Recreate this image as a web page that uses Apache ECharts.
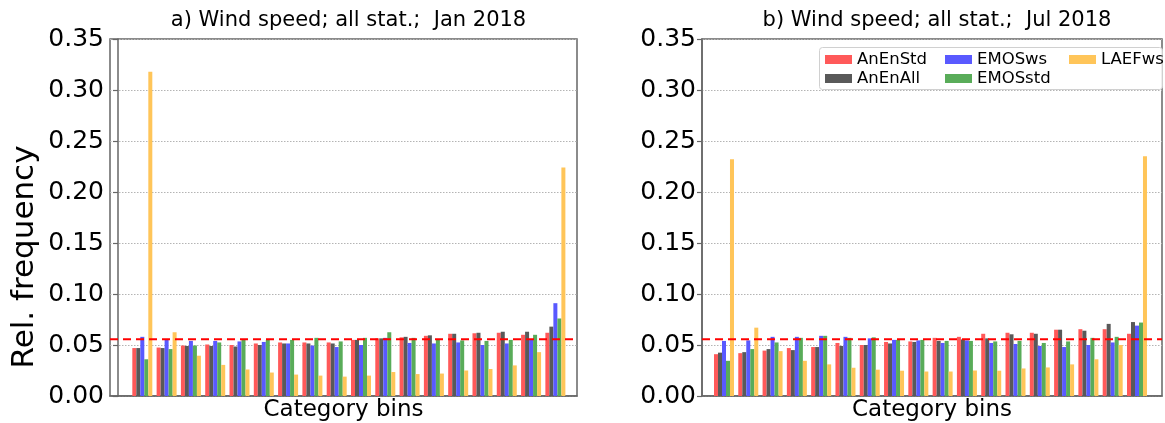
<!DOCTYPE html>
<html>
<head>
<meta charset="utf-8">
<script src="https://cdn.jsdelivr.net/npm/echarts@6/dist/echarts.min.js"></script>
<style>
  html, body { margin: 0; padding: 0; background: #fff; }
  #chart { width: 1165px; height: 423px; }
</style>
</head>
<body>
<div id="chart"></div>
<script>
// Rank histogram bins (1..18) and their relative frequencies
const bins = [1, 2, 3, 4, 5, 6, 7, 8, 9, 10, 11, 12, 13, 14, 15, 16, 17, 18];
const seriesNames = ['AnEnStd', 'AnEnAll', 'EMOSws', 'EMOSstd', 'LAEFws'];
const seriesColors = ['#ff5959', '#595959', '#5959ff', '#59ac59', '#ffc559'];
const yTicks = [0, 0.05, 0.10, 0.15, 0.20, 0.25, 0.30, 0.35];
const uniformFreq = 1 / 18;

// a) January 2018
const janAnEnStd = [0.047, 0.0475, 0.0495, 0.0505, 0.050, 0.0515, 0.0525, 0.0525, 0.0525, 0.055, 0.0565, 0.0575, 0.059, 0.061, 0.0615, 0.062, 0.060, 0.062];
const janAnEnAll = [0.047, 0.047, 0.049, 0.049, 0.0485, 0.050, 0.0515, 0.0515, 0.0515, 0.055, 0.0565, 0.058, 0.0595, 0.061, 0.062, 0.063, 0.063, 0.068];
const janEMOSws  = [0.058, 0.055, 0.054, 0.054, 0.0535, 0.053, 0.0515, 0.0495, 0.048, 0.050, 0.057, 0.052, 0.0515, 0.0525, 0.050, 0.0515, 0.055, 0.091];
const janEMOSstd = [0.036, 0.046, 0.0495, 0.0525, 0.055, 0.055, 0.055, 0.057, 0.0535, 0.057, 0.0625, 0.057, 0.0555, 0.0545, 0.054, 0.055, 0.060, 0.076];
const janLAEFws  = [0.318, 0.0625, 0.0395, 0.0305, 0.026, 0.023, 0.021, 0.020, 0.019, 0.020, 0.0235, 0.0215, 0.022, 0.025, 0.0265, 0.030, 0.043, 0.224];

// b) July 2018
const julAnEnStd = [0.041, 0.042, 0.0445, 0.047, 0.048, 0.052, 0.050, 0.053, 0.0535, 0.057, 0.058, 0.061, 0.062, 0.062, 0.065, 0.0655, 0.0655, 0.061];
const julAnEnAll = [0.0425, 0.043, 0.046, 0.045, 0.048, 0.049, 0.050, 0.0515, 0.053, 0.054, 0.0555, 0.0565, 0.0605, 0.061, 0.065, 0.064, 0.0707, 0.0725];
const julEMOSws  = [0.054, 0.0545, 0.058, 0.058, 0.059, 0.058, 0.0565, 0.055, 0.0545, 0.052, 0.0545, 0.052, 0.051, 0.049, 0.048, 0.050, 0.0525, 0.069];
const julEMOSstd = [0.0345, 0.046, 0.0525, 0.057, 0.059, 0.057, 0.0575, 0.055, 0.055, 0.054, 0.054, 0.0535, 0.054, 0.052, 0.0535, 0.057, 0.058, 0.072];
const julLAEFws  = [0.232, 0.067, 0.044, 0.0345, 0.031, 0.0277, 0.0258, 0.0248, 0.024, 0.024, 0.025, 0.0248, 0.027, 0.028, 0.031, 0.036, 0.050, 0.235];

const panels = [
  { title: 'a) Wind speed; all stat.;  Jan 2018', values: [janAnEnStd, janAnEnAll, janEMOSws, janEMOSstd, janLAEFws],
    grid: { left: 110, top: 39, width: 467, height: 357 }, xMin: -0.33, xMax: 18.89 },
  { title: 'b) Wind speed; all stat.;  Jul 2018', values: [julAnEnStd, julAnEnAll, julEMOSws, julEMOSstd, julLAEFws],
    grid: { left: 702, top: 39, width: 460, height: 357 }, xMin: 0.095, xMax: 19.03 }
];

const FONT = 'DejaVu Sans';
const frameColor = '#666';

const chart = echarts.init(document.getElementById('chart'), null, { renderer: 'canvas' });

const grids = [], xAxes = [], yAxes = [], titles = [], series = [];
panels.forEach((p, i) => {
  grids.push(Object.assign({
    show: true, borderColor: frameColor, borderWidth: 1.5, backgroundColor: 'transparent',
    containLabel: false, outerBoundsMode: 'none'
  }, p.grid));
  titles.push({
    text: p.title, left: p.grid.left + p.grid.width / 2, top: 5, textAlign: 'center',
    textStyle: { fontFamily: FONT, fontSize: 21, fontWeight: 'normal', color: '#000' }
  });
  xAxes.push({
    type: 'value', gridIndex: i, min: p.xMin, max: p.xMax,
    name: 'Category bins', nameLocation: 'middle', nameGap: 3,
    nameTextStyle: { fontFamily: FONT, fontSize: 23, color: '#000', verticalAlign: 'top' },
    axisLine: { show: true, lineStyle: { color: frameColor, width: 1.5 } },
    axisTick: { show: false }, axisLabel: { show: false }, splitLine: { show: false }
  });
  yAxes.push({
    type: 'value', gridIndex: i, min: yTicks[0], max: yTicks[yTicks.length - 1], interval: 0.05,
    axisLine: { show: true, lineStyle: { color: frameColor, width: 1.5 } },
    axisTick: { show: true, length: 5, lineStyle: { color: frameColor, width: 1.2 } },
    axisLabel: { fontFamily: FONT, fontSize: 25, color: '#000', margin: 6, formatter: v => v.toFixed(2) },
    splitLine: { show: true, lineStyle: { color: '#b4b4b4', type: [1.5, 1.5], width: 1 } }
  });
  p.values.forEach((vals, s) => {
    series.push({
      name: seriesNames[s], type: 'bar', xAxisIndex: i, yAxisIndex: i,
      barWidth: 4, barGap: '0%',
      itemStyle: { color: seriesColors[s] },
      data: bins.map((b, k) => [b, vals[k]])
    });
  });
  // uniform reference level 1/18 across the whole panel
  series.push({
    name: 'uniform', type: 'line', xAxisIndex: i, yAxisIndex: i, z: 10,
    symbol: 'none', silent: true,
    lineStyle: { color: '#ff0000', type: [8, 5], width: 2 },
    data: [[p.xMin, uniformFreq], [p.xMax, uniformFreq]]
  });
});

const legendText = { fontFamily: FONT, fontSize: 16.5, color: '#000' };
const legendCommon = { orient: 'vertical', icon: 'rect', itemWidth: 27, itemHeight: 9, itemGap: 2,
  top: 51, padding: 0, z: 10, textStyle: legendText, selectedMode: false };

chart.setOption({
  animation: false,
  backgroundColor: '#fff',
  title: titles,
  grid: grids,
  xAxis: xAxes,
  yAxis: yAxes,
  legend: [
    Object.assign({ left: 825, data: ['AnEnStd', 'AnEnAll'] }, legendCommon),
    Object.assign({ left: 945, data: ['EMOSws', 'EMOSstd'] }, legendCommon),
    Object.assign({ left: 1069, data: ['LAEFws'] }, legendCommon)
  ],
  graphic: [
    {
      type: 'rect', left: 819, top: 47, z: 3,
      shape: { width: 343, height: 42, r: 3 },
      style: { fill: 'rgba(255,255,255,0.85)', stroke: '#d0d0d0', lineWidth: 1 }
    },
    {
      type: 'text', x: 25, y: 257, rotation: Math.PI / 2, z: 5,
      style: { text: 'Rel. frequency', fontFamily: FONT, fontSize: 31, fill: '#000',
        textAlign: 'center', textVerticalAlign: 'middle' }
    }
  ],
  series: series
});
</script>
</body>
</html>
